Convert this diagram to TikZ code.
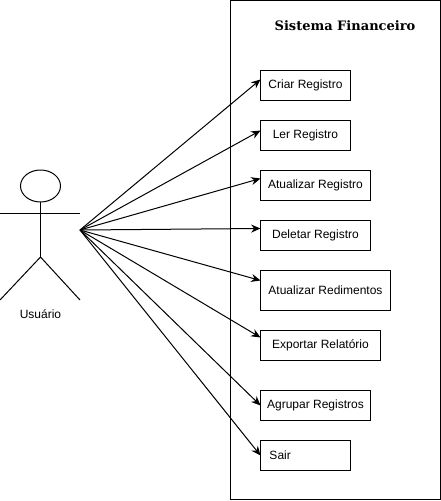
\documentclass[tikz,border=0pt]{standalone}
\usepackage{fontspec}
\setmainfont{Liberation Sans}
\newfontfamily\titlefont{DejaVu Serif}
\usetikzlibrary{positioning, arrows.meta, shapes.geometric}
\tikzstyle{usecase} = [rectangle, draw, line width=0.75pt, outer sep=0pt, minimum height=22.5pt, inner sep=0pt, font=\fontsize{9pt}{11pt}\selectfont]
\tikzstyle{arrow} = [line width=0.75pt, -{Stealth[length=7pt,width=6pt]}]
\tikzstyle{actor} = [line width=0.75pt]

\begin{document}
\begin{tikzpicture}[x=0.75pt, y=-0.75pt, node distance=15pt]
  \useasboundingbox (0,0) rectangle (441,501);

  % System boundary
  \node (sistema) [rectangle, draw, line width=0.75pt, outer sep=0pt, minimum width=157.5pt, minimum height=374.6pt, inner sep=0pt, anchor=north west] at (230.5,0.5) {};
  \node (titulo) [font=\titlefont\bfseries\fontsize{9.75pt}{12pt}\selectfont] at (345,26) {Sistema Financeiro};

  % Use cases
  \node (criar) [usecase, minimum width=67.5pt, anchor=north west] at (260.5,70.5) {Criar Registro};
  \node (ler) [usecase, minimum width=67.5pt, below=15pt of criar.south west, anchor=north west] {Ler Registro};
  \node (atualizar) [usecase, minimum width=82.5pt, below=15pt of ler.south west, anchor=north west] {Atualizar Registro};
  \node (deletar) [usecase, minimum width=82.5pt, below=15pt of atualizar.south west, anchor=north west] {Deletar Registro};
  \node (redimentos) [usecase, minimum width=97.5pt, minimum height=30pt, below=15pt of deletar.south west, anchor=north west] {Atualizar Redimentos};
  \node (exportar) [usecase, minimum width=90pt, below=15pt of redimentos.south west, anchor=north west] {Exportar Relatório};
  \node (agrupar) [usecase, minimum width=82.5pt, below=22.5pt of exportar.south west, anchor=north west] {Agrupar Registros};
  \node (sair) [usecase, minimum width=67.5pt, below=15pt of agrupar.south west, anchor=north west] {\hspace*{-38pt}Sair};

  % Actor
  \node (cabeca) [ellipse, draw, line width=0.75pt, outer sep=0pt, minimum width=30pt, minimum height=24pt, inner sep=0pt] at (40.5,186) {};
  \coordinate (ombroE) at (0,213);
  \coordinate (ombroD) at (80,213);
  \coordinate (quadril) at (40.5,257);
  \coordinate (peE) at (0,300);
  \coordinate (peD) at (80,300);
  \coordinate (mao) at (80,230);
  \draw[actor] (cabeca.south) -- (quadril);
  \draw[actor] (ombroE) -- (ombroD);
  \draw[actor] (peE) -- (quadril) -- (peD);
  \node (usuario) [font=\fontsize{9pt}{11pt}\selectfont] at (40.5,314) {Usuário};

  % Arrows
  \draw[arrow] (mao) -- ([yshift=4.5pt]criar.west);
  \draw[arrow] (mao) -- ([yshift=3.75pt]ler.west);
  \draw[arrow] (mao) -- ([yshift=5.25pt]atualizar.west);
  \draw[arrow] (mao) -- ([yshift=5.25pt]deletar.west);
  \draw[arrow] (mao) -- ([yshift=7.5pt]redimentos.west);
  \draw[arrow] (mao) -- ([yshift=6pt]exportar.west);
  \draw[arrow] (mao) -- (agrupar.west);
  \draw[arrow] (mao) -- (sair.west);

\end{tikzpicture}
\end{document}
